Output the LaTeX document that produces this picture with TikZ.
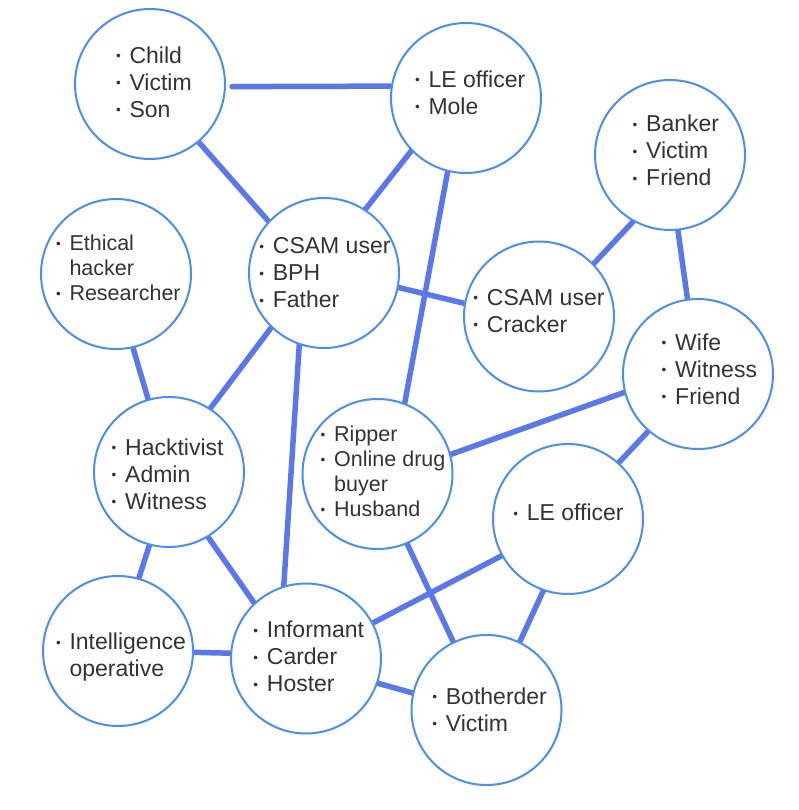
\documentclass[tikz,border=0pt]{standalone}
\usepackage{fontspec}
\setmainfont{Liberation Sans}
\usetikzlibrary{backgrounds}

\definecolor{ringblue}{HTML}{4A8EF2}
\definecolor{linkblue}{HTML}{5A78EA}
\definecolor{ink}{HTML}{333333}

% bullet with a hanging indent of fixed width
\newcommand\bul{\makebox[13.5pt][l]{\raisebox{2.3pt}{\fontsize{13.5}{13.5}\selectfont\textbullet}}}
\newcommand\ind{\hspace*{13.5pt}}

\tikzset{
  role/.style={circle, draw=ringblue, line width=2pt, fill=white,
               minimum size=150pt, inner sep=0pt},
  % labels are placed by the baseline of their last line
  txt/.style={text=ink, align=left, anchor=base west, inner sep=0pt,
              font=\fontsize{23}{27}\selectfont},
  txtsmall/.style={txt, font=\fontsize{21.5}{25}\selectfont},
  link/.style={draw=linkblue, line width=5.5pt, line cap=round}
}

\begin{document}
\begin{tikzpicture}[x=1pt, y=-1pt]
\useasboundingbox (0,0) rectangle (799,810);

% roles
\node[role] (child)  at (150,84)    {};
\node[role] (mole)   at (466,98)    {};
\node[role] (banker) at (670,155)   {};
\node[role] (ethic)  at (116,274)   {};
\node[role] (csam)   at (324,273)   {};
\node[role] (crack)  at (539,316.5) {};
\node[role] (wife)   at (698,374)   {};
\node[role] (hack)   at (169,472)   {};
\node[role] (ripper) at (377.5,474) {};
\node[role] (leoff)  at (568,519)   {};
\node[role] (intel)  at (118,651)   {};
\node[role] (inform) at (306,658.5) {};
\node[role] (bother) at (486.5,710) {};

% role labels
\node[txt] (child-t)  at (115.8,117.3) {\bul Child\\\bul Victim\\\bul Son};
\node[txt] (mole-t)   at (414.8,114.3) {\bul LE officer\\\bul Mole};
\node[txt] (banker-t) at (632.5,185.7) {\bul Banker\\\bul Victim\\\bul Friend};
\node[txtsmall] (ethic-t) at (55.8,300.7) {\bul Ethical\\\ind hacker\\\bul Researcher};
\node[txt] (csam-t)   at (259.2,307.3) {\bul CSAM user\\\bul BPH\\\bul Father};
\node[txt] (crack-t)  at (473.2,332)   {\bul CSAM user\\\bul Cracker};
\node[txt] (wife-t)   at (661.5,404)   {\bul Wife\\\bul Witness\\\bul Friend};
\node[txt] (hack-t)   at (111.5,509)   {\bul Hacktivist\\\bul Admin\\\bul Witness};
\node[txtsmall] (ripper-t) at (320.5,516.7) {\bul Ripper\\\bul Online drug\\\ind buyer\\\bul Husband};
\node[txt] (leoff-t)  at (513.2,520.7) {\bul LE officer};
\node[txt] (intel-t)  at (55.8,676.3)  {\bul Intelligence\\\ind operative};
\node[txt] (inform-t) at (253.2,691.7) {\bul Informant\\\bul Carder\\\bul Hoster};
\node[txt] (bother-t) at (432.2,731)   {\bul Botherder\\\bul Victim};

% relations, drawn beneath the circles
\begin{scope}[on background layer]
  \draw[link, shorten <=6pt] (child.-2) -- (mole.171.6);
  \draw[link] (child.310.2)  -- (csam.137.2);
  \draw[link] (csam.57.3)    -- (mole.224);
  \draw[link] (mole.256.5)   -- (ripper.69.8);
  \draw[link] (csam.-11.5)   -- (crack.170);
  \draw[link] (banker.241.5) -- (crack.44.7);
  \draw[link] (banker.276.8) -- (wife.98.5);
  \draw[link] (wife.194.6)   -- (ripper.15.3);
  \draw[link] (wife.229.3)   -- (leoff.48.7);
  \draw[link] (leoff.209.6)  -- (inform.28.7);
  \draw[link] (leoff.251.2)  -- (bother.64);
  \draw[link] (ripper.293.3) -- (bother.116.3);
  \draw[link] (inform.-19.1) -- (bother.167.4);
  \draw[link] (inform.107.3) -- (csam.251.5);
  \draw[link] (csam.226)     -- (hack.57.9);
  \draw[link] (ethic.283)    -- (hack.106.8);
  \draw[link] (hack.255.7)   -- (intel.74);
  \draw[link] (hack.301.3)   -- (inform.133.7);
  \draw[link] (intel.-1.7)   -- (inform.176);
\end{scope}
\end{tikzpicture}
\end{document}
